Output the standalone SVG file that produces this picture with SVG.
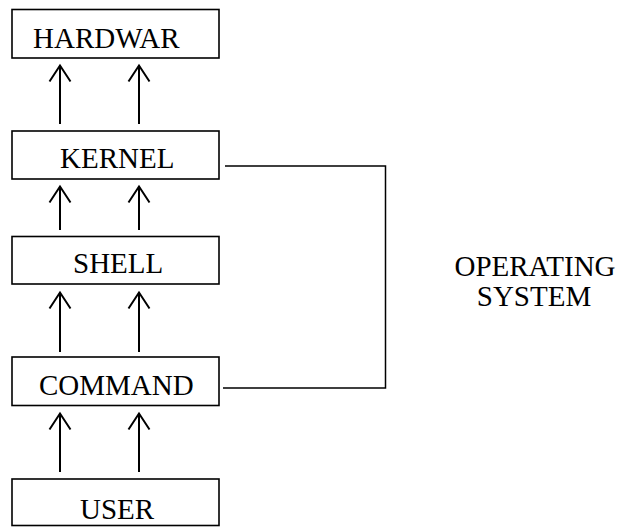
<svg xmlns="http://www.w3.org/2000/svg" width="617" height="527" viewBox="0 0 617 527">
  <defs>
    <style>
      .box rect { fill: #ffffff; stroke: #000000; stroke-width: 1.6; }
      .box text, .label { font-family: "Liberation Serif", "Times New Roman", serif; font-size: 29px; fill: #000000; }
      .arrow { stroke: #000000; stroke-width: 2; fill: none; }
      .bracket { stroke: #000000; stroke-width: 1.5; fill: none; }
    </style>
    <!-- open chevron head, drawn pointing along +x so orient="auto" turns it with the line -->
    <marker id="head" viewBox="0 0 20 24" refX="17" refY="12" markerUnits="userSpaceOnUse" markerWidth="20" markerHeight="24" orient="auto">
      <path d="M 1 1.5 L 17 12 L 1 22.5" stroke="#000000" stroke-width="2" fill="none"/>
    </marker>
  </defs>
  <rect width="617" height="527" fill="#ffffff"/>

  <g id="hardware" class="box">
    <rect x="12" y="9.5" width="207" height="48.5"/>
    <text x="33" y="48">HARDWAR</text>
  </g>
  <g id="kernel" class="box">
    <rect x="12" y="131" width="207" height="48"/>
    <text x="60" y="168">KERNEL</text>
  </g>
  <g id="shell" class="box">
    <rect x="12" y="236.5" width="207" height="47.5"/>
    <text x="73" y="273">SHELL</text>
  </g>
  <g id="command" class="box">
    <rect x="12" y="357" width="207" height="48.5"/>
    <text x="39" y="395">COMMAND</text>
  </g>
  <g id="user" class="box">
    <rect x="12" y="479" width="207" height="46.5"/>
    <text x="80" y="519">USER</text>
  </g>

  <g id="operating-system">
    <text class="label" x="535" y="276" text-anchor="middle">OPERATING</text>
    <text class="label" x="534" y="306" text-anchor="middle">SYSTEM</text>
  </g>

  <g id="connectors">
    <!-- upward arrows between layers -->
    <line class="arrow" x1="60" y1="124" x2="60" y2="65.5" marker-end="url(#head)"/>
    <line class="arrow" x1="139" y1="124" x2="139" y2="65.5" marker-end="url(#head)"/>
    <line class="arrow" x1="60" y1="230" x2="60" y2="186.5" marker-end="url(#head)"/>
    <line class="arrow" x1="139" y1="230" x2="139" y2="186.5" marker-end="url(#head)"/>
    <line class="arrow" x1="60" y1="352" x2="60" y2="292.5" marker-end="url(#head)"/>
    <line class="arrow" x1="139" y1="352" x2="139" y2="292.5" marker-end="url(#head)"/>
    <line class="arrow" x1="60" y1="472" x2="60" y2="413.5" marker-end="url(#head)"/>
    <line class="arrow" x1="139" y1="472" x2="139" y2="413.5" marker-end="url(#head)"/>
    <!-- bracket grouping kernel through command -->
    <polyline class="bracket" points="225,166 385.5,166 385.5,388 223,388"/>
  </g>
</svg>
